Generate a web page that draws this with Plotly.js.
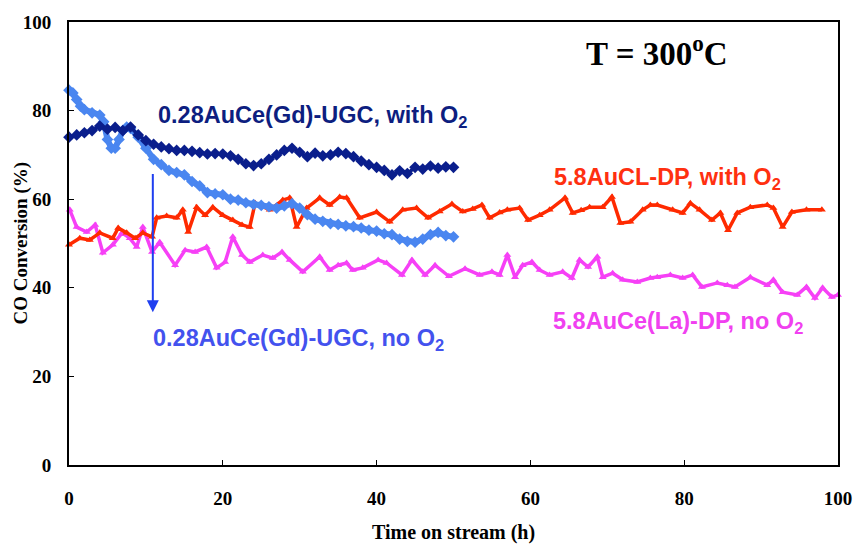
<!DOCTYPE html>
<html>
<head>
<meta charset="utf-8">
<script src="https://cdn.plot.ly/plotly-3.0.1.min.js"></script>
<style>html,body{margin:0;padding:0;background:#fff;}#chart{width:857px;height:544px;}</style>
</head>
<body>
<div id="chart"></div>
<script>
// 0.28AuCe(Gd)-UGC, with O2
const navyX = [0,1,2,3,4,5,6,7,8,9,10,11,12,13,14,15,16,17,18,19,20,21,22,23,24,25,26,27,28,29,30,31,32,33,34,35,36,37,38,39,40,41,42,43,44,45,46,47,48,49,50];
const navyY = [74,74.5,75,75.5,76.5,75.8,76.2,75.5,76.3,74.5,73.2,72.4,71.8,71.4,71,71,70.8,70.5,70.2,70.3,70.2,69.8,69,68,67.6,68,69,70,71,71.5,70.6,69.6,70.4,69.8,70,70.6,70.3,69.6,68.6,67.8,67.2,66.5,65.5,66.4,65.8,67.2,66.8,67.5,67,67.3,67.2];

// 0.28AuCe(Gd)-UGC, no O2
const blueX = [0,0.5,1,1.5,2,3,4,4.5,5,5.5,6,6.5,7,7.5,8,9,10,11,12,13,14,15,16,17,18,19,20,21,22,23,24,25,26,27,28,29,30,31,32,33,34,35,36,37,38,39,40,41,42,43,44,45,46,47,48,49,50];
const blueY = [84.6,84,82.5,81,80.2,79.5,79,77.5,73.5,71.5,71.5,73.5,75.5,76.3,76,74,71.5,69,67.8,66.5,66,65.5,64,63,61.5,61.2,61,60,59.8,59.2,58.8,58.6,58.3,58,58.5,59,58,56.5,55.5,55,54.5,54.3,54,53.8,53.5,53,52.8,52.2,52,51,50.5,50.3,51,52,52.5,51.8,51.5];

// 5.8AuCL-DP, with O2
const redX = [0,1.4,2.7,4,5.7,6.4,7.5,8.6,9.6,10.8,11.4,12.7,14,14.8,15.5,16.6,17.7,18.7,20,21.3,22.5,23.5,24.2,26.1,27.8,28.7,29.6,30.9,32.6,33.9,35.2,36.1,37.8,40,41.7,43.4,45.2,46.7,48.2,49.8,51.2,52.5,53.7,54.7,56,57,58.6,59.7,61.2,62.5,64.5,65.5,66.6,67.7,69.4,70.6,71.7,73,74.6,75.6,76.5,78.5,79.8,80.8,82,83.6,84.7,85.7,86.9,88.6,90.8,91.6,92.8,94,95.9,97.9];
const redY = [49.7,51.2,50.8,52.4,51.2,53.5,52.4,51.2,52.4,51.5,55.8,56.2,55.8,57.6,52.6,58.2,56.4,58.2,56.4,55.3,54.2,53.7,59.1,57.6,59.8,60.3,53.7,58,60.3,58.7,60.5,60.3,55.8,57.1,54.9,57.6,58,55.8,57.2,58.9,57.2,57.8,58.7,55.8,57,57.6,58,55.3,56.4,57.6,60.3,56.9,57.5,58.2,58.2,60.5,54.6,54.9,57.6,58.7,58.7,57.6,56.9,59.1,57.6,55.3,56.9,53,56.9,58.2,58.7,58,53.7,57.1,57.6,57.6];

// 5.8AuCe(La)-DP, no O2
const magX = [0.1,1,2.3,3.4,4.4,5.7,6.9,7.9,8.8,9.6,10.8,11.8,13.8,15.1,16.4,17.9,19.2,20.3,21.3,22.5,23.5,25.2,26.5,27.7,28.7,30.4,32.6,33.9,35,36.1,36.9,38.2,40.2,41.3,43.3,44.6,46.3,47.6,49.4,51.5,53.4,55,56,57,58,59,60.2,61.2,62.5,64.2,65.4,66.4,67.5,68.7,69.4,70.7,72,73.9,75.6,76.5,78.2,79.8,81.1,82.3,84.3,85.6,86.6,88.6,90.8,91.6,92.8,94.7,95.9,97,98,99.2,100];
const magY = [57.6,53.7,52.6,54.2,47.9,49.7,52.4,51.2,49.2,53.7,48.1,50.3,45.1,48.5,48.1,49.2,44.5,45.8,51.5,47.4,45.8,47.4,46.7,48.1,46.3,43.6,47,44,45.1,45.6,44,44.5,46.3,45.6,42.9,46.3,42.9,45.1,42.6,44.3,42.9,43.6,42.9,47.4,42.4,45.1,45.8,44,42.9,43.6,42.2,46.3,44.7,47,42.4,43.3,41.8,41.3,42.2,42.4,42.9,42.2,42.9,40.2,41.1,40.6,40.2,42.4,40.6,41.8,39,38.4,40.2,37.7,40,37.9,38.4];

const xTicks = [0,20,40,60,80,100];
const yTicks = [0,20,40,60,80,100];

const serif = "Liberation Serif, Times New Roman, serif";
const sans = "Liberation Sans, Arial, sans-serif";

const traces = [
  {x: magX, y: magY, mode: 'lines+markers', cliponaxis: false,
   line: {color: '#f640f6', width: 3.5}, marker: {symbol: 'triangle-up', size: 7, color: '#f640f6'}},
  {x: redX, y: redY, mode: 'lines+markers', cliponaxis: false,
   line: {color: '#ff2a00', width: 3.5}, marker: {symbol: 'triangle-up', size: 7, color: '#ff2a00'}},
  {x: blueX, y: blueY, mode: 'lines+markers', cliponaxis: false,
   line: {color: '#4a86f0', width: 6}, marker: {symbol: 'diamond', size: 9, color: '#4a86f0'}},
  {x: navyX, y: navyY, mode: 'lines+markers', cliponaxis: false,
   line: {color: '#0a1e8c', width: 3.5}, marker: {symbol: 'diamond', size: 9, color: '#0a1e8c'}}
];

const layout = {
  width: 857, height: 544,
  margin: {l: 69, r: 19, t: 22, b: 79},
  paper_bgcolor: '#fff', plot_bgcolor: '#fff',
  showlegend: false,
  xaxis: {
    range: [0, 100], tickvals: xTicks, ticktext: xTicks.map(String),
    showgrid: false, zeroline: false,
    showline: true, mirror: true, linecolor: '#000', linewidth: 2,
    ticks: 'inside', ticklen: 5, tickcolor: '#000', tickwidth: 1,
    ticklabelstandoff: 15,
    tickfont: {family: serif, size: 19, weight: 'bold', color: '#000'},
    automargin: false
  },
  yaxis: {
    range: [0, 100], tickvals: yTicks, ticktext: yTicks.map(String),
    showgrid: false, zeroline: false,
    showline: true, mirror: true, linecolor: '#000', linewidth: 2,
    ticks: 'inside', ticklen: 5, tickcolor: '#000', tickwidth: 1,
    ticklabelstandoff: 12,
    tickfont: {family: serif, size: 19, weight: 'bold', color: '#000'},
    automargin: false
  },
  annotations: [
    {xref: 'paper', yref: 'paper', x: 0.5, y: -0.152, xanchor: 'center', yanchor: 'middle', showarrow: false,
     text: 'Time on stream (h)', font: {family: serif, size: 20, weight: 'bold', color: '#000'}},
    {xref: 'paper', yref: 'paper', x: -0.0637, y: 0.5, xanchor: 'center', yanchor: 'middle', showarrow: false, textangle: -90,
     text: 'CO Conversion (%)', font: {family: serif, size: 19, weight: 'bold', color: '#000'}},
    {x: 10.9, y: 34.5, ax: 10.9, ay: 66, xref: 'x', yref: 'y', axref: 'x', ayref: 'y',
     showarrow: true, arrowhead: 2, arrowsize: 1.2, arrowwidth: 2, arrowcolor: '#1f3ff0', text: ''},
    {x: 11.3, y: 78.6, xref: 'x', yref: 'y', xanchor: 'left', yanchor: 'middle', showarrow: false,
     text: '0.28AuCe(Gd)-UGC, with O<sub>2</sub>', font: {family: sans, size: 23.5, weight: 'bold', color: '#0d1e80'}},
    {x: 62.8, y: 64.7, xref: 'x', yref: 'y', xanchor: 'left', yanchor: 'middle', showarrow: false,
     text: '5.8AuCL-DP, with O<sub>2</sub>', font: {family: sans, size: 23.5, weight: 'bold', color: '#ff3010'}},
    {x: 10.7, y: 28.4, xref: 'x', yref: 'y', xanchor: 'left', yanchor: 'middle', showarrow: false,
     text: '0.28AuCe(Gd)-UGC, no O<sub>2</sub>', font: {family: sans, size: 23.5, weight: 'bold', color: '#4352ee'}},
    {x: 62.7, y: 32.2, xref: 'x', yref: 'y', xanchor: 'left', yanchor: 'middle', showarrow: false,
     text: '5.8AuCe(La)-DP, no O<sub>2</sub>', font: {family: sans, size: 23.5, weight: 'bold', color: '#f040f0'}},
    {x: 67, y: 93.4, xref: 'x', yref: 'y', xanchor: 'left', yanchor: 'middle', showarrow: false,
     text: 'T = 300<sup>o</sup>C', font: {family: serif, size: 33, weight: 'bold', color: '#000'}}
  ]
};

Plotly.newPlot('chart', traces, layout, {displayModeBar: false, staticPlot: true});
</script>
</body>
</html>
